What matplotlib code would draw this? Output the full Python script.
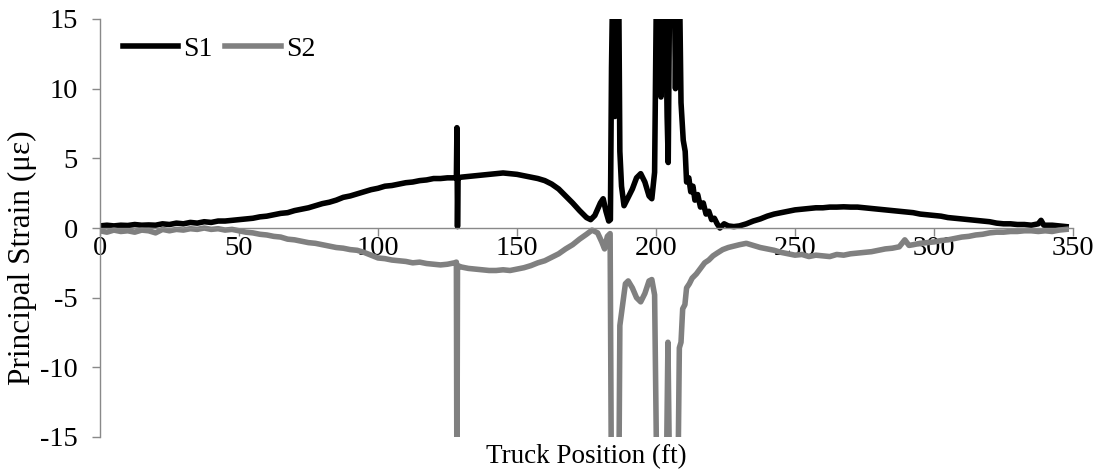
import matplotlib
matplotlib.use("Agg")
import matplotlib.pyplot as plt

plt.rcParams['font.family'] = ['Liberation Serif', 'DejaVu Serif']

# S1 (principal strain 1)
s1_x = [0, 2.5, 5, 7.5, 10, 12.5, 15, 17.5, 20, 22.5, 25, 27.5, 30, 32.5, 35, 37.5,
        40, 42.5, 45, 47.5, 50, 52.5, 55, 57.5, 60, 62.5, 65, 67.5, 70, 72.5, 75, 77.5,
        80, 82.5, 85, 87.5, 90, 92.5, 95, 97.5, 100, 102.5, 105, 107.5, 110, 112.5, 115,
        117.5, 120, 122.5, 125, 127.5, 128.2, 128.4, 128.6, 128.8, 130, 132.5, 135, 137.5,
        140, 142.5, 145, 147.5, 150, 152.5, 155, 157.5, 160, 162.5, 165, 167.5, 170, 172.5,
        175, 176.5, 178, 180, 181, 182, 183, 183.6, 184, 184.6, 185.2, 185.8, 186.5, 187,
        187.6, 188.5, 190, 191.5, 193, 194.5, 196, 197.5, 198.5, 199.5, 200.3, 201, 201.8,
        202.5, 203.2, 204, 204.4, 205, 205.8, 206.5, 207, 207.6, 208.3, 209, 209.8, 210.5,
        211, 211.8, 212.5, 213.3, 214, 215, 216, 217, 218, 219, 220, 221, 222, 223, 224.5,
        226, 228, 230, 232.5, 235, 237.5, 240, 242.5, 245, 247.5, 250, 252.5, 255, 257.5,
        260, 262.5, 265, 267.5, 270, 272.5, 275, 277.5, 280, 282.5, 285, 287.5, 290, 292.5,
        295, 297.5, 300, 302.5, 305, 307.5, 310, 312.5, 315, 317.5, 320, 322.5, 325, 327.5,
        330, 332.5, 335, 337.5, 338.5, 339.5, 342.5, 345, 347.5]
s1_y = [0.15, 0.2, 0.15, 0.2, 0.18, 0.25, 0.2, 0.22, 0.2, 0.3, 0.25, 0.35, 0.3, 0.4, 0.35, 0.45,
        0.4, 0.5, 0.5, 0.55, 0.6, 0.65, 0.7, 0.8, 0.85, 0.95, 1.05, 1.1, 1.25, 1.35, 1.45, 1.6,
        1.75, 1.85, 2.0, 2.2, 2.3, 2.45, 2.6, 2.75, 2.85, 3.0, 3.05, 3.15, 3.25, 3.3, 3.4,
        3.45, 3.55, 3.55, 3.6, 3.6, 3.65, 7.2, 0.1, 3.6, 3.65, 3.7, 3.75, 3.8,
        3.85, 3.9, 3.95, 3.9, 3.85, 3.75, 3.65, 3.55, 3.4, 3.15, 2.8, 2.3, 1.8, 1.25,
        0.75, 0.6, 0.9, 1.8, 2.1, 1.2, 0.5, 0.6, 11.5, 20, 8, 20, 20, 5.5,
        3.0, 1.6, 2.2, 2.8, 3.6, 3.9, 3.3, 2.3, 2.1, 4.0, 20, 20, 9.4,
        20, 20, 8, 4.7, 20, 20, 20, 10, 20, 20, 9, 6.3, 5.5,
        3.3, 3.6, 2.6, 3.0, 2.0, 2.4, 1.5, 1.8, 1.0, 1.2, 0.6, 0.7, 0.3, 0.0, 0.3,
        0.15, 0.1, 0.15, 0.3, 0.5, 0.65, 0.85, 1.0, 1.1, 1.2, 1.3, 1.35, 1.4, 1.45,
        1.45, 1.5, 1.5, 1.52, 1.5, 1.5, 1.45, 1.4, 1.35, 1.3, 1.25, 1.2, 1.15, 1.1,
        1.0, 0.95, 0.9, 0.85, 0.75, 0.7, 0.65, 0.6, 0.55, 0.5, 0.45, 0.35, 0.3, 0.3,
        0.25, 0.25, 0.2, 0.3, 0.55, 0.2, 0.2, 0.15, 0.1]

# S2 (principal strain 2)
s2_x = [0, 2.5, 5, 7.5, 10, 12.5, 15, 17.5, 20, 22.5, 25, 27.5, 30, 32.5, 35, 37.5,
        40, 42.5, 45, 47.5, 50, 52.5, 55, 57.5, 60, 62.5, 65, 67.5, 70, 72.5, 75, 77.5,
        80, 82.5, 85, 87.5, 90, 92.5, 95, 97.5, 100, 102.5, 105, 107.5, 110, 112.5, 115,
        117.5, 120, 122.5, 125, 127.5, 128.2, 128.4, 128.6, 130, 132.5, 135, 137.5,
        140, 142.5, 145, 147.5, 150, 152.5, 155, 157.5, 160, 162.5, 165, 167.5, 170, 172.5,
        175, 177, 179, 180.5, 181.5, 182.5, 183.5, 184, 186.6, 187, 187.8, 189, 190, 191.5,
        193, 194.5, 196, 197.5, 198.5, 199.5, 200.4, 203.6, 204.3, 205, 207.8, 208.4, 209,
        209.6, 210.4, 211, 212, 213, 214.5, 216, 217.5, 219, 220.5, 222, 224, 226, 228, 230,
        232.5, 235, 237.5, 240, 242.5, 245, 247.5, 250, 252.5, 255, 257.5, 260, 262.5, 265,
        267.5, 270, 272.5, 275, 277.5, 280, 282.5, 285, 287.5, 289.5, 291, 292.5, 295, 297.5,
        300, 302.5, 305, 307.5, 310, 312.5, 315, 317.5, 320, 322.5, 325, 327.5, 330, 332.5,
        335, 337.5, 340, 342.5, 345, 347.5]
s2_y = [-0.2, -0.3, -0.15, -0.25, -0.2, -0.3, -0.15, -0.2, -0.35, -0.1, -0.2, -0.1, -0.15, -0.05, -0.1, 0.0,
        -0.1, -0.05, -0.15, -0.1, -0.2, -0.3, -0.35, -0.45, -0.5, -0.6, -0.65, -0.8, -0.85, -0.95, -1.05, -1.1,
        -1.2, -1.3, -1.4, -1.45, -1.55, -1.6, -1.75, -1.95, -2.15, -2.2, -2.3, -2.35, -2.4, -2.5, -2.45,
        -2.55, -2.6, -2.65, -2.6, -2.5, -2.45, -20, -2.7, -2.8, -2.9, -2.95, -3.0,
        -3.05, -3.05, -3.0, -3.05, -2.95, -2.85, -2.7, -2.5, -2.35, -2.1, -1.85, -1.5, -1.2, -0.8,
        -0.45, -0.15, -0.35, -1.0, -1.5, -0.6, -0.4, -20, -20, -7.0, -5.8, -4.0, -3.8, -4.3,
        -5.0, -5.3, -4.7, -3.8, -3.7, -4.8, -20, -20, -8.2, -20, -20, -8.6, -8.2,
        -5.8, -5.5, -4.3, -4.0, -3.6, -3.3, -2.9, -2.5, -2.3, -2.0, -1.8, -1.55, -1.4, -1.3, -1.2,
        -1.1, -1.25, -1.4, -1.5, -1.6, -1.75, -1.85, -1.95, -1.9, -2.05, -1.95, -2.0, -2.05, -1.9,
        -1.95, -1.85, -1.8, -1.75, -1.7, -1.6, -1.5, -1.45, -1.35, -0.85, -1.25, -1.2, -1.1, -1.05,
        -1.0, -0.9, -0.85, -0.75, -0.65, -0.6, -0.5, -0.45, -0.35, -0.3, -0.3, -0.25, -0.25, -0.2,
        -0.2, -0.25, -0.2, -0.25, -0.15, -0.1]

x_ticks = [0, 50, 100, 150, 200, 250, 300, 350]
y_ticks = [-15, -10, -5, 0, 5, 10, 15]
y_tick_labels = ['-15', '-10', '-5', '0', '5', '10', '15']

axis_grey = '#898989'

fig = plt.figure(figsize=(11.07, 4.75), dpi=100)
ax = fig.add_axes([0.0903, 0.08, 0.879, 0.88])

ax.plot(s1_x, s1_y, color='black', linewidth=4.0, solid_joinstyle='round', label='S1')
ax.plot(s2_x, s2_y, color='#808080', linewidth=4.0, solid_joinstyle='round', label='S2')

ax.set_xlim(0, 350)
ax.set_ylim(-15, 15)
ax.set_xticks(x_ticks)
ax.set_yticks(y_ticks)
ax.set_yticklabels(y_tick_labels)

for side in ['top', 'right']:
    ax.spines[side].set_visible(False)
ax.spines['bottom'].set_position(('data', 0))
for side in ['left', 'bottom']:
    ax.spines[side].set_color(axis_grey)
    ax.spines[side].set_linewidth(1.0)
ax.tick_params(axis='both', colors=axis_grey, labelcolor='black', labelsize=20.5,
               length=6, width=1.0, direction='out')
ax.tick_params(axis='x', pad=0)
ax.tick_params(axis='y', pad=10)

ax.set_xlabel('Truck Position (ft)', fontsize=19.5, va='center')
ax.xaxis.set_label_coords(0.5, -0.048)
ax.set_ylabel('Principal Strain (\u03bc\u03b5)', fontsize=22.5, va='center')
ax.yaxis.set_label_coords(-0.08, 0.43)

ax.legend(loc='upper left', bbox_to_anchor=(0.012, 0.985), ncol=2, frameon=False,
          fontsize=20, handlelength=2.0, handletextpad=0.18, columnspacing=0.45,
          borderaxespad=0)

fig.savefig('out.png', dpi=100)
